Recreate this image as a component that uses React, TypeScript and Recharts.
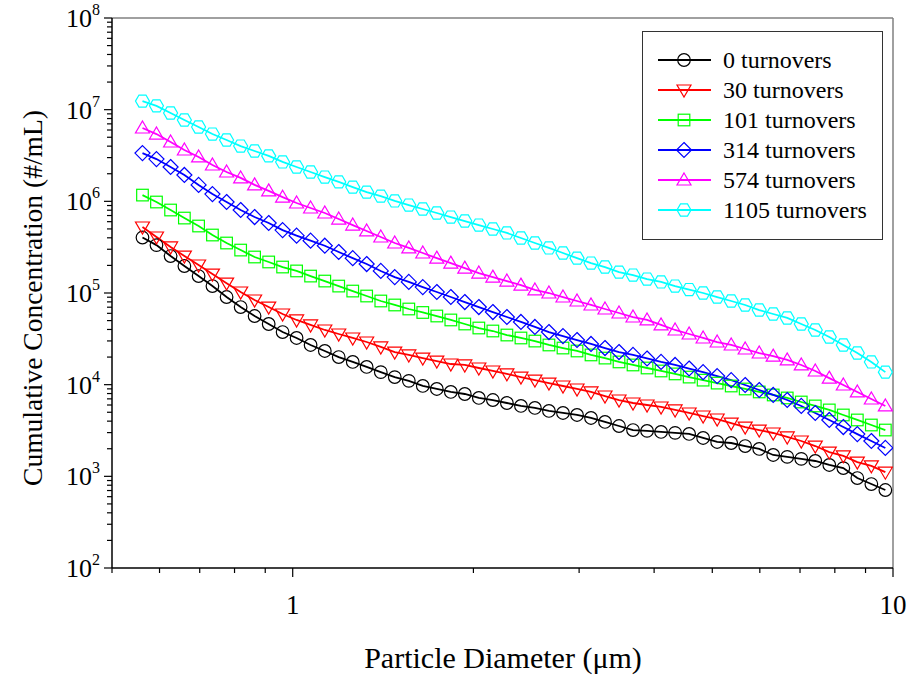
import { LineChart, Line, XAxis, YAxis, Legend, ReferenceLine, Label } from "recharts";

const FONT = '"Liberation Serif", "Times New Roman", serif';

// particle diameter (um)
const diameters = [
  0.562, 0.593, 0.626, 0.66, 0.697, 0.735, 0.776, 0.819, 0.864, 0.912, 0.962, 1.015, 1.071, 1.131,
  1.193, 1.259, 1.328, 1.402, 1.479, 1.561, 1.647, 1.738, 1.834, 1.935, 2.042, 2.155, 2.274, 2.4,
  2.532, 2.672, 2.82, 2.976, 3.14, 3.313, 3.496, 3.689, 3.893, 4.108, 4.335, 4.575, 4.827, 5.094,
  5.376, 5.672, 5.986, 6.316, 6.665, 7.034, 7.422, 7.832, 8.265, 8.721, 9.203, 9.711,
];

// cumulative concentration (#/mL)
const turnovers0 = [
  403000, 333000, 253000, 197000, 153000, 119000, 90400, 70300, 56100, 45900, 37500, 32300, 27100,
  23300, 20000, 17700, 15600, 13700, 12100, 11000, 9680, 8970, 8330, 7910, 7160, 6800, 6310, 5860,
  5570, 5170, 4910, 4670, 4330, 3920, 3540, 3200, 3130, 3050, 2980, 2900, 2620, 2370, 2310, 2140,
  1990, 1710, 1630, 1550, 1470, 1330, 1230, 958, 824, 709,
];
const turnovers30 = [
  525000, 408000, 318000, 253000, 202000, 161000, 128000, 102500, 83900, 70300, 59000, 50800, 44800,
  39500, 35700, 32300, 29200, 25800, 22700, 21100, 19500, 18100, 16800, 16400, 15200, 14100, 13100,
  12100, 11200, 10400, 9670, 8970, 8330, 7520, 6800, 6310, 6000, 5710, 5300, 4910, 4550, 4220, 3810,
  3450, 3200, 2970, 2690, 2430, 2140, 1840, 1670, 1430, 1300, 1110,
];
const turnovers101 = [
  1170000, 983000, 804000, 657000, 538000, 429000, 351000, 294000, 247000, 218000, 192000, 174000,
  153000, 135000, 119000, 105000, 92700, 81800, 74000, 66900, 61300, 56100, 50800, 45900, 41500,
  38500, 34800, 32300, 29900, 27100, 25100, 23300, 21100, 19500, 17700, 16400, 15200, 14100, 13100,
  12100, 11200, 10400, 9670, 8970, 8330, 7720, 7160, 6470, 5860, 5300, 4670, 4120, 3630, 3200,
];
const turnovers314 = [
  3360000, 2890000, 2370000, 1940000, 1510000, 1200000, 983000, 804000, 674000, 580000, 486000,
  422000, 372000, 328000, 280000, 240000, 207000, 174000, 149000, 132000, 116000, 102500, 90400,
  79700, 70300, 62000, 54700, 48300, 42600, 37500, 33900, 30700, 27800, 25100, 22700, 21100, 19300,
  17700, 16400, 15000, 13700, 12400, 11200, 9920, 8750, 7720, 6800, 5860, 4910, 4120, 3450, 2890,
  2430, 2040,
];
const turnovers574 = [
  6310000, 5420000, 4440000, 3630000, 3050000, 2490000, 2090000, 1800000, 1510000, 1300000, 1110000,
  959000, 846000, 746000, 641000, 551000, 475000, 408000, 351000, 310000, 273000, 240000, 212000,
  187000, 165000, 149000, 135000, 122000, 108000, 100000, 90400, 81800, 74000, 66900, 60500, 54700,
  50800, 44800, 39500, 35700, 32300, 29200, 27100, 24500, 22150, 20500, 18600, 16400, 14100, 11800,
  9920, 8330, 6980, 5860,
];
const turnovers1105 = [
  12400000, 11000000, 9190000, 7720000, 6470000, 5420000, 4670000, 4010000, 3540000, 3130000,
  2690000, 2370000, 2090000, 1840000, 1630000, 1430000, 1260000, 1140000, 1010000, 911000, 825000,
  746000, 674000, 610000, 551000, 499000, 452000, 398000, 351000, 310000, 273000, 240000, 212000,
  192000, 169000, 157000, 142000, 132000, 119000, 109000, 100000, 90400, 81800, 74000, 65200, 59000,
  53400, 45900, 39500, 33100, 27100, 22150, 17700, 13700,
];

const seriesNames = ["0 turnovers", "30 turnovers", "101 turnovers", "314 turnovers", "574 turnovers", "1105 turnovers"];
const seriesKeys = ["t0", "t30", "t101", "t314", "t574", "t1105"];
const seriesColors = ["#000000", "#ff0000", "#00ff00", "#0000ff", "#ff00ff", "#00ffff"];
const seriesShapes = ["circle", "triangleDown", "square", "diamond", "triangleUp", "hexagon"];

const xTicks = [0.5, 0.6, 0.7, 0.8, 0.9, 1, 2, 3, 4, 5, 6, 7, 8, 9, 10];
const xLabels = [1, 10];
const yDecades = [1e2, 1e3, 1e4, 1e5, 1e6, 1e7, 1e8];
const yTicks = yDecades.flatMap((d) => (d === 1e8 ? [d] : [1, 2, 3, 4, 5, 6, 7, 8, 9].map((m) => d * m)));

const rows = diameters.map((d, i) => ({
  d,
  t0: turnovers0[i],
  t30: turnovers30[i],
  t101: turnovers101[i],
  t314: turnovers314[i],
  t574: turnovers574[i],
  t1105: turnovers1105[i],
}));

function Marker({ shape, cx, cy, color }: { shape: string; cx: number; cy: number; color: string }) {
  const p = { fill: "none", stroke: color, strokeWidth: 1.2 };
  switch (shape) {
    case "circle":
      return <circle cx={cx} cy={cy} r={6.3} {...p} />;
    case "triangleDown":
      return <polygon points={`${cx - 7},${cy - 5} ${cx + 7},${cy - 5} ${cx},${cy + 7}`} {...p} />;
    case "square":
      return <rect x={cx - 5.8} y={cy - 5.8} width={11.6} height={11.6} {...p} />;
    case "diamond":
      return <polygon points={`${cx},${cy - 7.5} ${cx + 7.5},${cy} ${cx},${cy + 7.5} ${cx - 7.5},${cy}`} {...p} />;
    case "triangleUp":
      return <polygon points={`${cx},${cy - 7} ${cx + 7},${cy + 5} ${cx - 7},${cy + 5}`} {...p} />;
    default: {
      const r = 7;
      const h = r * 0.866;
      return (
        <polygon
          points={`${cx + r},${cy} ${cx + r / 2},${cy - h} ${cx - r / 2},${cy - h} ${cx - r},${cy} ${cx - r / 2},${cy + h} ${cx + r / 2},${cy + h}`}
          {...p}
        />
      );
    }
  }
}

const XTick = ({ x, y, payload }: any) => {
  const v = payload.value;
  const major = xLabels.includes(v);
  return (
    <g>
      <line x1={x} x2={x} y1={y} y2={y + (major ? 9 : 5)} stroke="#000" strokeWidth={1.2} />
      {major && (
        <text x={x} y={y + 37} textAnchor="middle" dominantBaseline="central" fontSize={27} fontFamily={FONT} fill="#000">
          {v}
        </text>
      )}
    </g>
  );
};

const YTick = ({ x, y, payload }: any) => {
  const v = payload.value;
  const exp = Math.round(Math.log10(v));
  const major = Math.abs(v - Math.pow(10, exp)) < 1e-6 * v;
  return (
    <g>
      <line x1={x} x2={x - (major ? 8 : 5)} y1={y} y2={y} stroke="#000" strokeWidth={1.2} />
      {major && (
        <text x={x - 12} y={y} textAnchor="end" fontSize={26} fontFamily={FONT} fill="#000">
          <tspan dy={9}>10</tspan>
          <tspan dy={-12} fontSize={16}>
            {exp}
          </tspan>
        </text>
      )}
    </g>
  );
};

const renderLegend = () => (
  <div
    style={{
      width: 241,
      height: 209,
      boxSizing: "border-box",
      border: "1.5px solid #333",
      background: "#fff",
      paddingTop: 13,
    }}
  >
    {seriesNames.map((name, i) => (
      <div key={name} style={{ display: "flex", alignItems: "center", height: 30 }}>
        <svg width={80} height={30} style={{ flex: "none" }}>
          <line x1={15} x2={68} y1={15} y2={15} stroke={seriesColors[i]} strokeWidth={1.8} />
          <Marker shape={seriesShapes[i]} cx={41} cy={15} color={seriesColors[i]} />
        </svg>
        <span style={{ fontFamily: FONT, fontSize: 24, color: "#000", whiteSpace: "nowrap", lineHeight: "30px" }}>
          {name}
        </span>
      </div>
    ))}
  </div>
);

export default function App() {
  return (
    <div style={{ position: "absolute", left: 0, top: 0, width: 910, height: 679, background: "#fff" }}>
      <LineChart width={910} height={679} data={rows} margin={{ top: 18, right: 17, bottom: 0, left: 0 }}>
        <XAxis
          dataKey="d"
          type="number"
          scale="log"
          domain={[0.5, 10]}
          allowDataOverflow
          ticks={xTicks}
          interval={0}
          tickSize={0}
          tickMargin={0}
          tickLine={false}
          tick={<XTick />}
          height={111}
          axisLine={{ stroke: "#000", strokeWidth: 1.5 }}
        >
          <Label
            content={() => (
              <text x={503} y={657} textAnchor="middle" dominantBaseline="central" fontSize={30} fontFamily={FONT} fill="#000">
                Particle Diameter (μm)
              </text>
            )}
          />
        </XAxis>
        <YAxis
          type="number"
          scale="log"
          domain={[100, 1e8]}
          allowDataOverflow
          ticks={yTicks}
          interval={0}
          tickSize={0}
          tickMargin={0}
          tickLine={false}
          tick={<YTick />}
          width={112}
          axisLine={{ stroke: "#000", strokeWidth: 1.5 }}
        >
          <Label
            content={() => (
              <text
                x={32}
                y={298}
                transform="rotate(-90 32 298)"
                textAnchor="middle"
                dominantBaseline="central"
                fontSize={27.5}
                fontFamily={FONT}
                fill="#000"
              >
                Cumulative Concentration (#/mL)
              </text>
            )}
          />
        </YAxis>
        <ReferenceLine y={1e8} stroke="#808080" strokeWidth={1.5} />
        <ReferenceLine x={10} stroke="#808080" strokeWidth={1.5} />
        {seriesKeys.map((k, i) => (
          <Line
            key={k}
            dataKey={k}
            type="linear"
            stroke={seriesColors[i]}
            strokeWidth={1.8}
            isAnimationActive={false}
            activeDot={false}
            dot={(p: any) => (
              <Marker key={`${k}-${p.index}`} shape={seriesShapes[i]} cx={p.cx} cy={p.cy} color={seriesColors[i]} />
            )}
          />
        ))}
        <Legend
          layout="vertical"
          align="center"
          verticalAlign="middle"
          content={renderLegend}
          wrapperStyle={{ left: 642, top: 31, width: 241, height: 209 }}
        />
      </LineChart>
    </div>
  );
}
